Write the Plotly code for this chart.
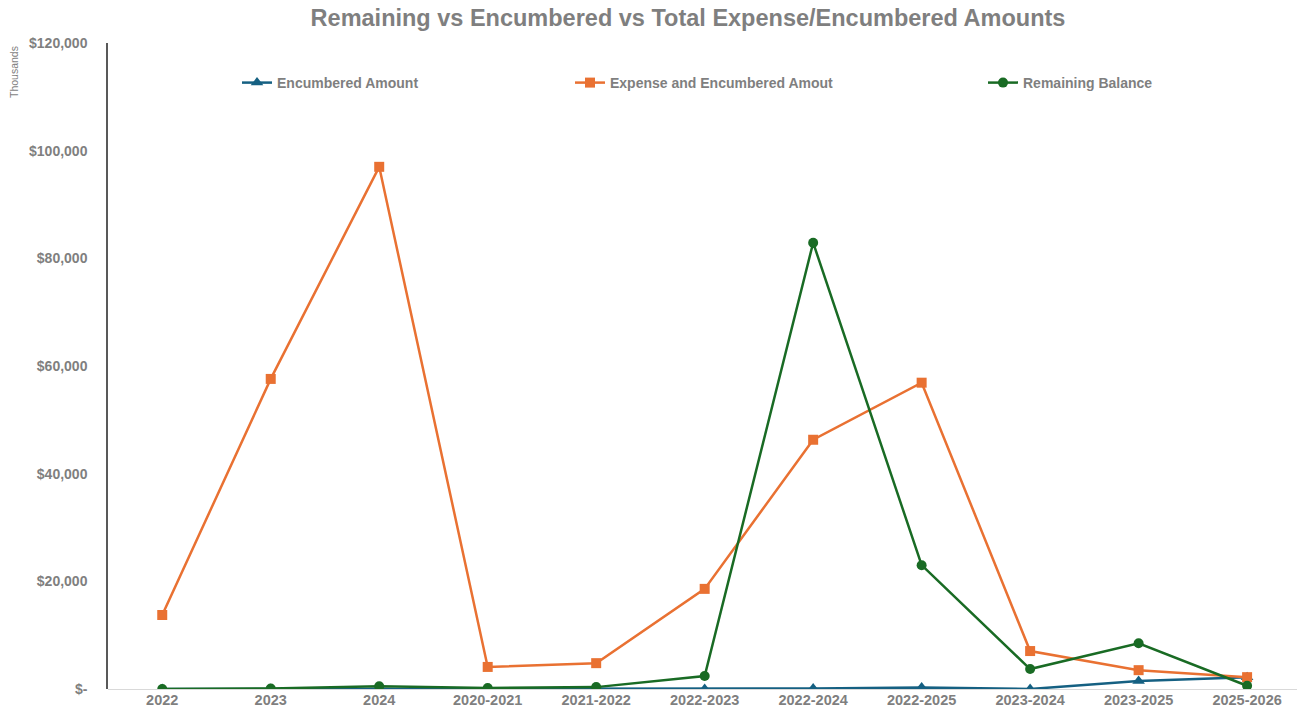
import plotly.graph_objects as go

categories = ["2022", "2023", "2024", "2020-2021", "2021-2022", "2022-2023",
              "2022-2024", "2022-2025", "2023-2024", "2023-2025", "2025-2026"]
# values in thousands of dollars
encumbered = [0, 0, 0, 0, 0, 0, 100, 300, 0, 1500, 2200]
expense_encumbered = [13750, 57600, 97000, 4100, 4800, 18600, 46300, 56900, 7050, 3500, 2200]
remaining = [0, 100, 500, 200, 350, 2400, 82900, 23000, 3700, 8500, 600]
y_tickvals = [0, 20000, 40000, 60000, 80000, 100000, 120000]
y_ticktext = ["$-", "$20,000", "$40,000", "$60,000", "$80,000", "$100,000", "$120,000"]

BLUE = "#156082"
ORANGE = "#E97132"
GREEN = "#196B24"
GRAY = "#7F7F7F"
FONT = "Liberation Sans, Arial, sans-serif"

fig = go.Figure()
fig.add_trace(go.Scatter(x=categories, y=encumbered, name="Encumbered Amount",
                         mode="lines+markers", line=dict(color=BLUE, width=2.5),
                         marker=dict(symbol="triangle-up", size=11, color=BLUE),
                         legend="legend4", showlegend=True))
fig.add_trace(go.Scatter(x=categories, y=expense_encumbered, name="Expense and Encumbered Amout",
                         mode="lines+markers", line=dict(color=ORANGE, width=2.5),
                         marker=dict(symbol="square", size=10, color=ORANGE),
                         legend="legend2"))
fig.add_trace(go.Scatter(x=categories, y=remaining, name="Remaining Balance",
                         mode="lines+markers", line=dict(color=GREEN, width=2.5),
                         marker=dict(symbol="circle", size=10, color=GREEN),
                         legend="legend3"))

leg_common = dict(orientation="h", yanchor="middle", xanchor="left",
                  bgcolor="rgba(0,0,0,0)", itemwidth=30,
                  font=dict(family=FONT, size=14, color=GRAY, weight="bold"))
# plot area in page pixels
W, H = 1297, 723
PL, PR, PT, PB = 108, 1297, 43, 689
def xp(px):
    return (px - PL) / (PR - PL)
def yp(py):
    return (PB - py) / (PB - PT)

fig.update_layout(
    width=W, height=H,
    margin=dict(l=PL, r=W - PR, t=PT, b=H - PB),
    paper_bgcolor="white", plot_bgcolor="white",
    showlegend=True,
    title=dict(text="<b>Remaining vs Encumbered vs Total Expense/Encumbered Amounts</b>",
               x=688 / W, xanchor="center", y=1 - 18 / H, yanchor="middle",
               font=dict(family=FONT, size=23.5, color=GRAY)),
    legend4=dict(x=xp(237), y=yp(83), **leg_common),
    legend2=dict(x=xp(570), y=yp(83), **leg_common),
    legend3=dict(x=xp(983), y=yp(83), **leg_common),
    xaxis=dict(type="category", range=[-0.5, 10.46], showgrid=False,
               showline=False, ticks="",
               tickfont=dict(family=FONT, size=14.5, color=GRAY, weight="bold")),
    yaxis=dict(range=[0, 120000], tickvals=y_tickvals, ticktext=y_ticktext,
               showgrid=False, showline=True, linecolor="#595959", linewidth=1.5,
               zeroline=True, zerolinecolor="#D9D9D9", zerolinewidth=1,
               ticks="outside", ticklen=16, tickcolor="rgba(0,0,0,0)",
               tickfont=dict(family=FONT, size=14, color=GRAY, weight="bold")),
    annotations=[dict(text="Thousands", textangle=-90,
                      x=xp(14), y=yp(72), xref="paper", yref="paper",
                      xanchor="center", yanchor="middle", showarrow=False,
                      font=dict(family=FONT, size=10.5, color=GRAY))],
)

fig.write_html("out.html", config={"displayModeBar": False},
               post_script="document.body.style.margin='0';")
